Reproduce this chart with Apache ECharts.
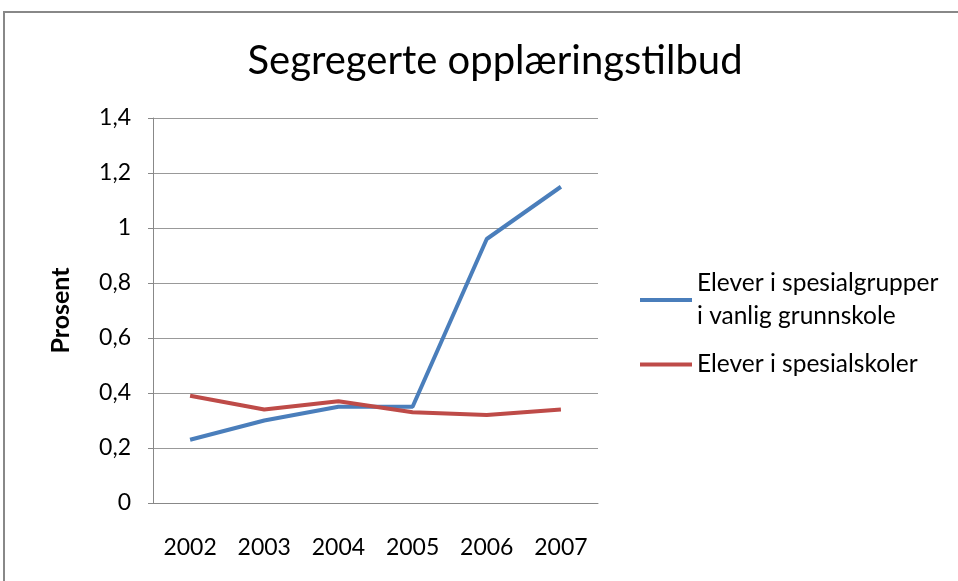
<!DOCTYPE html>
<html>
<head>
<meta charset="utf-8">
<script src="https://cdn.jsdelivr.net/npm/echarts@6/dist/echarts.min.js"></script>
<style>
  html, body { margin: 0; padding: 0; background: #fff; }
  #main { width: 958px; height: 581px; }
</style>
</head>
<body>
<div id="main"></div>
<script>
var years = ['2002', '2003', '2004', '2005', '2006', '2007'];
var spesialgrupper = [0.23, 0.30, 0.35, 0.35, 0.96, 1.15];
var spesialskoler = [0.39, 0.34, 0.37, 0.33, 0.32, 0.34];
var nameGrupper = 'Elever i spesialgrupper\ni vanlig grunnskole';
var nameSkoler = 'Elever i spesialskoler';

var chartDom = document.getElementById('main');
var myChart = echarts.init(chartDom);
var font = 'Lato, "Open Sans", sans-serif';

var option = {
  backgroundColor: '#fff',
  textStyle: { fontFamily: font },
  graphic: [
    {
      type: 'rect',
      shape: { x: 4, y: 12, width: 1000, height: 1000 },
      style: { fill: 'none', stroke: '#888', lineWidth: 2 }
    }
  ],
  title: {
    text: 'Segregerte opplæringstilbud',
    left: 490,
    textAlign: 'center',
    top: 36,
    textStyle: { fontFamily: font, fontSize: 40, fontWeight: 'normal', color: '#000' }
  },
  legend: {
    orient: 'vertical',
    left: 635,
    top: 262,
    itemWidth: 52,
    itemHeight: 4,
    itemGap: 15,
    icon: 'rect',
    data: [nameGrupper, nameSkoler],
    textStyle: { fontFamily: font, fontSize: 24.5, color: '#000', lineHeight: 33 }
  },
  grid: { left: 153, right: 360, top: 118, bottom: 78 },
  xAxis: {
    type: 'category',
    data: years,
    boundaryGap: true,
    axisLine: { lineStyle: { color: '#888' } },
    axisTick: { show: false },
    axisLabel: { color: '#000', fontSize: 23, margin: 33, fontFamily: font }
  },
  yAxis: {
    type: 'value',
    min: 0,
    max: 1.4,
    interval: 0.2,
    name: 'Prosent',
    nameLocation: 'middle',
    nameGap: 80,
    nameTextStyle: { fontSize: 25, fontWeight: 'bold', color: '#000', fontFamily: font },
    axisLine: { show: true, lineStyle: { color: '#888' } },
    axisTick: { show: true, length: 5, lineStyle: { color: '#888' } },
    splitLine: { lineStyle: { color: '#999' } },
    axisLabel: {
      color: '#000',
      fontSize: 23,
      margin: 22,
      fontFamily: font,
      formatter: function (v) { return String(Math.round(v * 10) / 10).replace('.', ','); }
    }
  },
  series: [
    {
      name: nameGrupper,
      type: 'line',
      data: spesialgrupper,
      showSymbol: false,
      color: '#4a7ebb',
      lineStyle: { width: 4 }
    },
    {
      name: nameSkoler,
      type: 'line',
      data: spesialskoler,
      showSymbol: false,
      color: '#be4b48',
      lineStyle: { width: 4 }
    }
  ]
};

option && myChart.setOption(option);
</script>
</body>
</html>
